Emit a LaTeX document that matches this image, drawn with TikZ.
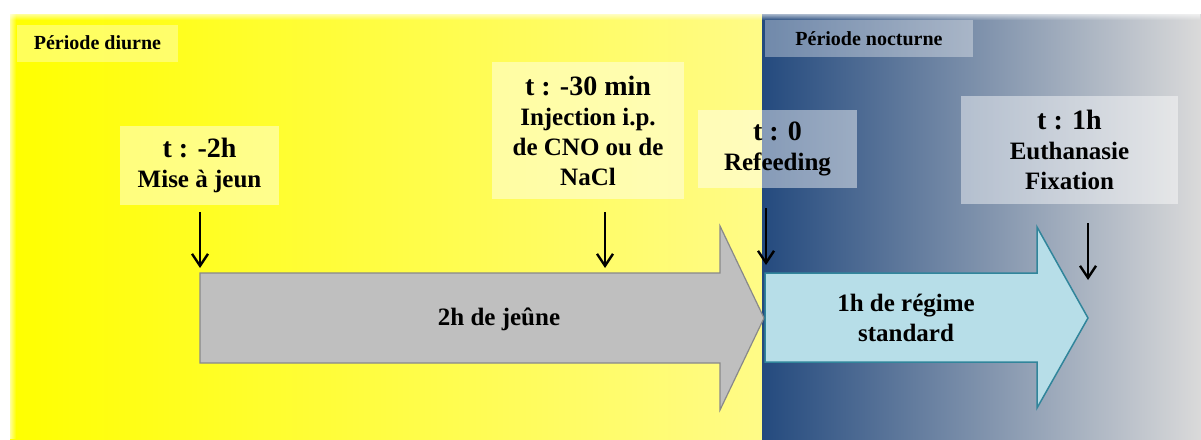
\documentclass[tikz,border=0pt]{standalone}
\usepackage{fontspec}
\setmainfont{Liberation Serif}
\usetikzlibrary{arrows.meta,fadings}
\definecolor{ylA}{RGB}{255,255,0}
\definecolor{ylB}{RGB}{255,251,135}
\definecolor{blA}{RGB}{36,74,126}
\definecolor{blM}{RGB}{130,150,178}
\definecolor{blB}{RGB}{218,218,218}
\definecolor{grayfill}{RGB}{191,191,191}
\definecolor{grayline}{RGB}{137,137,137}
\definecolor{cyanfill}{RGB}{183,222,232}
\definecolor{cyanline}{RGB}{49,133,155}
\begin{document}
\begin{tikzpicture}[x=1pt,y=-1pt,
  tbox/.style={fill=white,fill opacity=0.45,text opacity=1,inner sep=0pt,align=center,
    font=\fontsize{25}{30}\selectfont\bfseries},
  pbox/.style={fill=white,fill opacity=0.35,text opacity=1,inner sep=0pt,
    font=\fontsize{20}{24}\selectfont\bfseries},
  tick/.style={line width=2.4pt,-{Straight Barb[length=12pt,width=16pt]}},
  big/.style={font=\fontsize{25}{30}\selectfont\bfseries,align=center,inner sep=0pt},
  grayarrow/.style={fill=grayfill,draw=grayline,line width=1.2pt,line join=miter},
  cyanarrow/.style={fill=cyanfill,draw=cyanline,line width=1.5pt,line join=miter}]
\useasboundingbox (0,0) rectangle (1201,439);
\fill[white] (0,0) rectangle (1201,439);
% backgrounds
\shade[left color=ylA,right color=ylB] (10,14) rectangle (762,439);
\shade[left color=blA,middle color=blM,right color=blB] (762,14) rectangle (1201,439);
% soft edges
\fill[white,path fading=south] (0,10) rectangle (1201,20);
\fill[white,path fading=east] (6,10) rectangle (16,439);
% period labels
\node[pbox,minimum width=161pt,minimum height=37pt] (pd) at (97.5,43) {Période diurne};
\node[pbox,minimum width=208pt,minimum height=37pt] (pn) at (869,38.5) {Période nocturne};
% big arrows
\draw[grayarrow] (200,273) -- (720,273) -- (720,226) -- (764,318) -- (720,410) -- (720,363) -- (200,363) -- cycle;
\draw[cyanarrow] (765,273) -- (1037,273) -- (1037,227) -- (1088,318) -- (1037,408) -- (1037,362) -- (765,362) -- cycle;
\node[big] (g) at (499,319) {2h de jeûne};
\node[big] (c) at (906,318) {1h de régime\\standard};
% time boxes
\node[tbox,minimum width=159pt,minimum height=79pt] (b1) at (199.5,165.5) {{\fontsize{28}{30}\selectfont t : -2h}\\Mise à jeun};
\node[tbox,minimum width=192pt,minimum height=137pt] (b2) at (588,130.5) {{\fontsize{28}{30}\selectfont t : -30 min}\\Injection i.p.\\de CNO ou de\\NaCl};
\node[tbox,minimum width=159pt,minimum height=78pt] (b3) at (777.5,149) {{\fontsize{28}{30}\selectfont t : 0}\\Refeeding};
\node[tbox,minimum width=217pt,minimum height=108pt] (b4) at (1069.5,150) {{\fontsize{28}{30}\selectfont t : 1h}\\Euthanasie\\Fixation};
% tick arrows
\coordinate (a1s) at (200,212); \coordinate (a1e) at (200,268);
\coordinate (a2s) at (605,212); \coordinate (a2e) at (605,268);
\coordinate (a3s) at (766,208); \coordinate (a3e) at (766,265);
\coordinate (a4s) at (1088,223); \coordinate (a4e) at (1088,280);
\draw[tick] (a1s) -- (a1e);
\draw[tick] (a2s) -- (a2e);
\draw[tick] (a3s) -- (a3e);
\draw[tick] (a4s) -- (a4e);
\end{tikzpicture}
\end{document}
